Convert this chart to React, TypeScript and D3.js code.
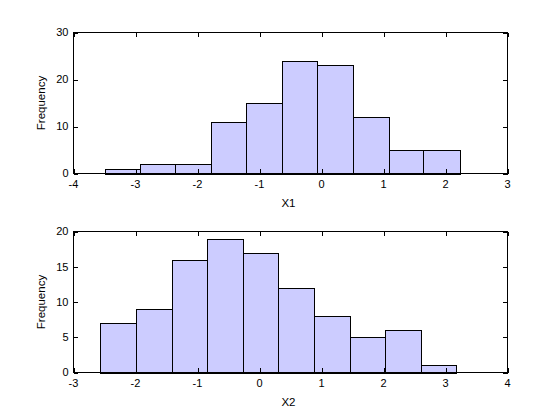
import React from "react";
import * as d3 from "d3";

const x1Edges = [-3.5, -2.935, -2.355, -1.79, -1.215, -0.645, -0.065, 0.5, 1.081, 1.645, 2.226];
const x1Counts = [1, 2, 2, 11, 15, 24, 23, 12, 5, 5];
const x1XTicks = [-4, -3, -2, -1, 0, 1, 2, 3];
const x1YTicks = [0, 10, 20, 30];

const x2Edges = [-2.565, -2.0, -1.419, -0.849, -0.269, 0.306, 0.876, 1.452, 2.032, 2.602, 3.177];
const x2Counts = [7, 9, 16, 19, 17, 12, 8, 5, 6, 1];
const x2XTicks = [-3, -2, -1, 0, 1, 2, 3, 4];
const x2YTicks = [0, 5, 10, 15, 20];

const FONT = "'Liberation Sans', Arial, Helvetica, sans-serif";

type PanelProps = {
  edges: number[];
  counts: number[];
  xTicks: number[];
  yTicks: number[];
  xLabel: string;
  top: number;
  bottom: number;
};

function Panel({ edges, counts, xTicks, yTicks, xLabel, top, bottom }: PanelProps) {
  const left = 73.5;
  const right = 507.5;
  const x = d3.scaleLinear().domain([xTicks[0], xTicks[xTicks.length - 1]]).range([left, right]);
  const y = d3.scaleLinear().domain([yTicks[0], yTicks[yTicks.length - 1]]).range([bottom, top]);
  const tl = 4.5;
  const bars = counts.map((c, i) => ({ x0: edges[i], x1: edges[i + 1], c }));
  return (
    <g>
      {bars.map((b, i) => (
        <rect
          key={i}
          x={Math.round(x(b.x0)) + 0.5}
          y={Math.round(y(b.c)) + 0.5}
          width={Math.round(x(b.x1)) - Math.round(x(b.x0))}
          height={Math.round(y(0)) - Math.round(y(b.c))}
          fill="#ccccff"
          stroke="#000"
          strokeWidth={1}
          shapeRendering="crispEdges"
        />
      ))}
      <rect x={left} y={top} width={right - left} height={bottom - top} fill="none" stroke="#000" strokeWidth={1} shapeRendering="crispEdges" />
      {xTicks.map((t) => (
        <g key={"x" + t}>
          <line x1={Math.round(x(t)) + 0.5} x2={Math.round(x(t)) + 0.5} y1={bottom} y2={bottom - tl} stroke="#000" shapeRendering="crispEdges" />
          <line x1={Math.round(x(t)) + 0.5} x2={Math.round(x(t)) + 0.5} y1={top} y2={top + tl} stroke="#000" shapeRendering="crispEdges" />
          <text x={x(t)} y={bottom + 14} textAnchor="middle" fontSize={11} fontFamily={FONT} fill="#000">
            {t}
          </text>
        </g>
      ))}
      {yTicks.map((t) => (
        <g key={"y" + t}>
          <line x1={left} x2={left + tl} y1={Math.round(y(t)) + 0.5} y2={Math.round(y(t)) + 0.5} stroke="#000" shapeRendering="crispEdges" />
          <line x1={right} x2={right - tl} y1={Math.round(y(t)) + 0.5} y2={Math.round(y(t)) + 0.5} stroke="#000" shapeRendering="crispEdges" />
          <text x={left - 5} y={y(t)} dy="0.35em" textAnchor="end" fontSize={11} fontFamily={FONT} fill="#000">
            {t}
          </text>
        </g>
      ))}
      <text x={(left + right) / 2 - 2} y={bottom + 33} textAnchor="middle" fontSize={11.5} fontFamily={FONT} fill="#000">
        {xLabel}
      </text>
      <text
        transform={`translate(44.5,${(top + bottom) / 2}) rotate(-90)`}
        textAnchor="middle"
        fontSize={11.5}
        fontFamily={FONT}
        fill="#000"
      >
        Frequency
      </text>
    </g>
  );
}

export default function App() {
  return (
    <svg width={560} height={420} style={{ position: "absolute", left: 0, top: 0, background: "#fff" }}>
      <rect width={560} height={420} fill="#fff" />
      <Panel edges={x1Edges} counts={x1Counts} xTicks={x1XTicks} yTicks={x1YTicks} xLabel="X1" top={32.5} bottom={173.5} />
      <Panel edges={x2Edges} counts={x2Counts} xTicks={x2XTicks} yTicks={x2YTicks} xLabel="X2" top={231.5} bottom={372.5} />
    </svg>
  );
}
